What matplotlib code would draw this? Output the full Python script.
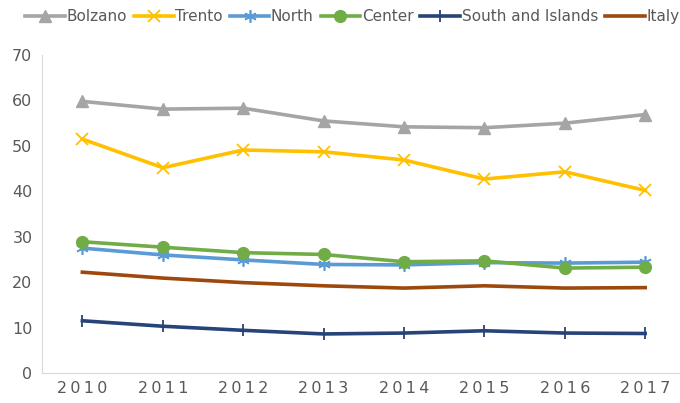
import matplotlib
matplotlib.use("Agg")
import matplotlib.pyplot as plt

years = ["2010", "2011", "2012", "2013", "2014", "2015", "2016", "2017"]
bolzano = [59.8, 58.1, 58.3, 55.5, 54.2, 54.0, 55.0, 56.9]
trento = [51.5, 45.2, 49.1, 48.7, 46.9, 42.7, 44.3, 40.2]
north = [27.5, 26.0, 24.9, 23.9, 23.8, 24.3, 24.2, 24.4]
center = [28.9, 27.7, 26.5, 26.1, 24.5, 24.7, 23.1, 23.3]
south = [11.5, 10.3, 9.4, 8.6, 8.8, 9.3, 8.8, 8.7]
italy = [22.2, 20.9, 19.9, 19.2, 18.7, 19.2, 18.7, 18.8]

x = range(len(years))

fig = plt.figure(figsize=(6.8, 4.03), dpi=100)
ax = fig.add_axes([0.062, 0.0744, 0.94, 0.789])

lw = 2.6
ax.plot(x, bolzano, color="#A5A5A5", lw=lw, marker="^", ms=8, label="Bolzano")
ax.plot(x, trento, color="#FFC000", lw=lw, marker="x", ms=8, mew=1.3, label="Trento")
ax.plot(x, north, color="#5B9BD5", lw=lw, marker=(6, 2, 0), ms=9, mew=1.2, label="North")
ax.plot(x, center, color="#70AD47", lw=lw, marker="o", ms=8.5, label="Center")
ax.plot(x, south, color="#264478", lw=lw, marker="|", ms=9, mew=1.3, label="South and Islands")
ax.plot(x, italy, color="#9E480E", lw=lw, label="Italy")

ax.set_ylim(0, 70)
ax.set_xlim(-0.5, 7.45)
ax.set_yticks(range(0, 71, 10))
ax.set_xticks(list(x))
ax.set_xticklabels(["\u2009".join(y) for y in years])
for s in ["top", "right"]:
    ax.spines[s].set_visible(False)
ax.spines["left"].set_color("#D9D9D9")
ax.spines["bottom"].set_color("#D9D9D9")
ax.tick_params(length=0, colors="#595959", labelsize=11.5)
ax.tick_params(axis="x", pad=6)
ax.tick_params(axis="y", pad=7)

leg = fig.legend(loc="upper center", bbox_to_anchor=(0.518, 1.012), ncol=6, frameon=False,
                 fontsize=11, handlelength=2.6, columnspacing=0.45, handletextpad=0.1,
                 labelcolor="#595959")

fig.savefig("out.png", dpi=100)
